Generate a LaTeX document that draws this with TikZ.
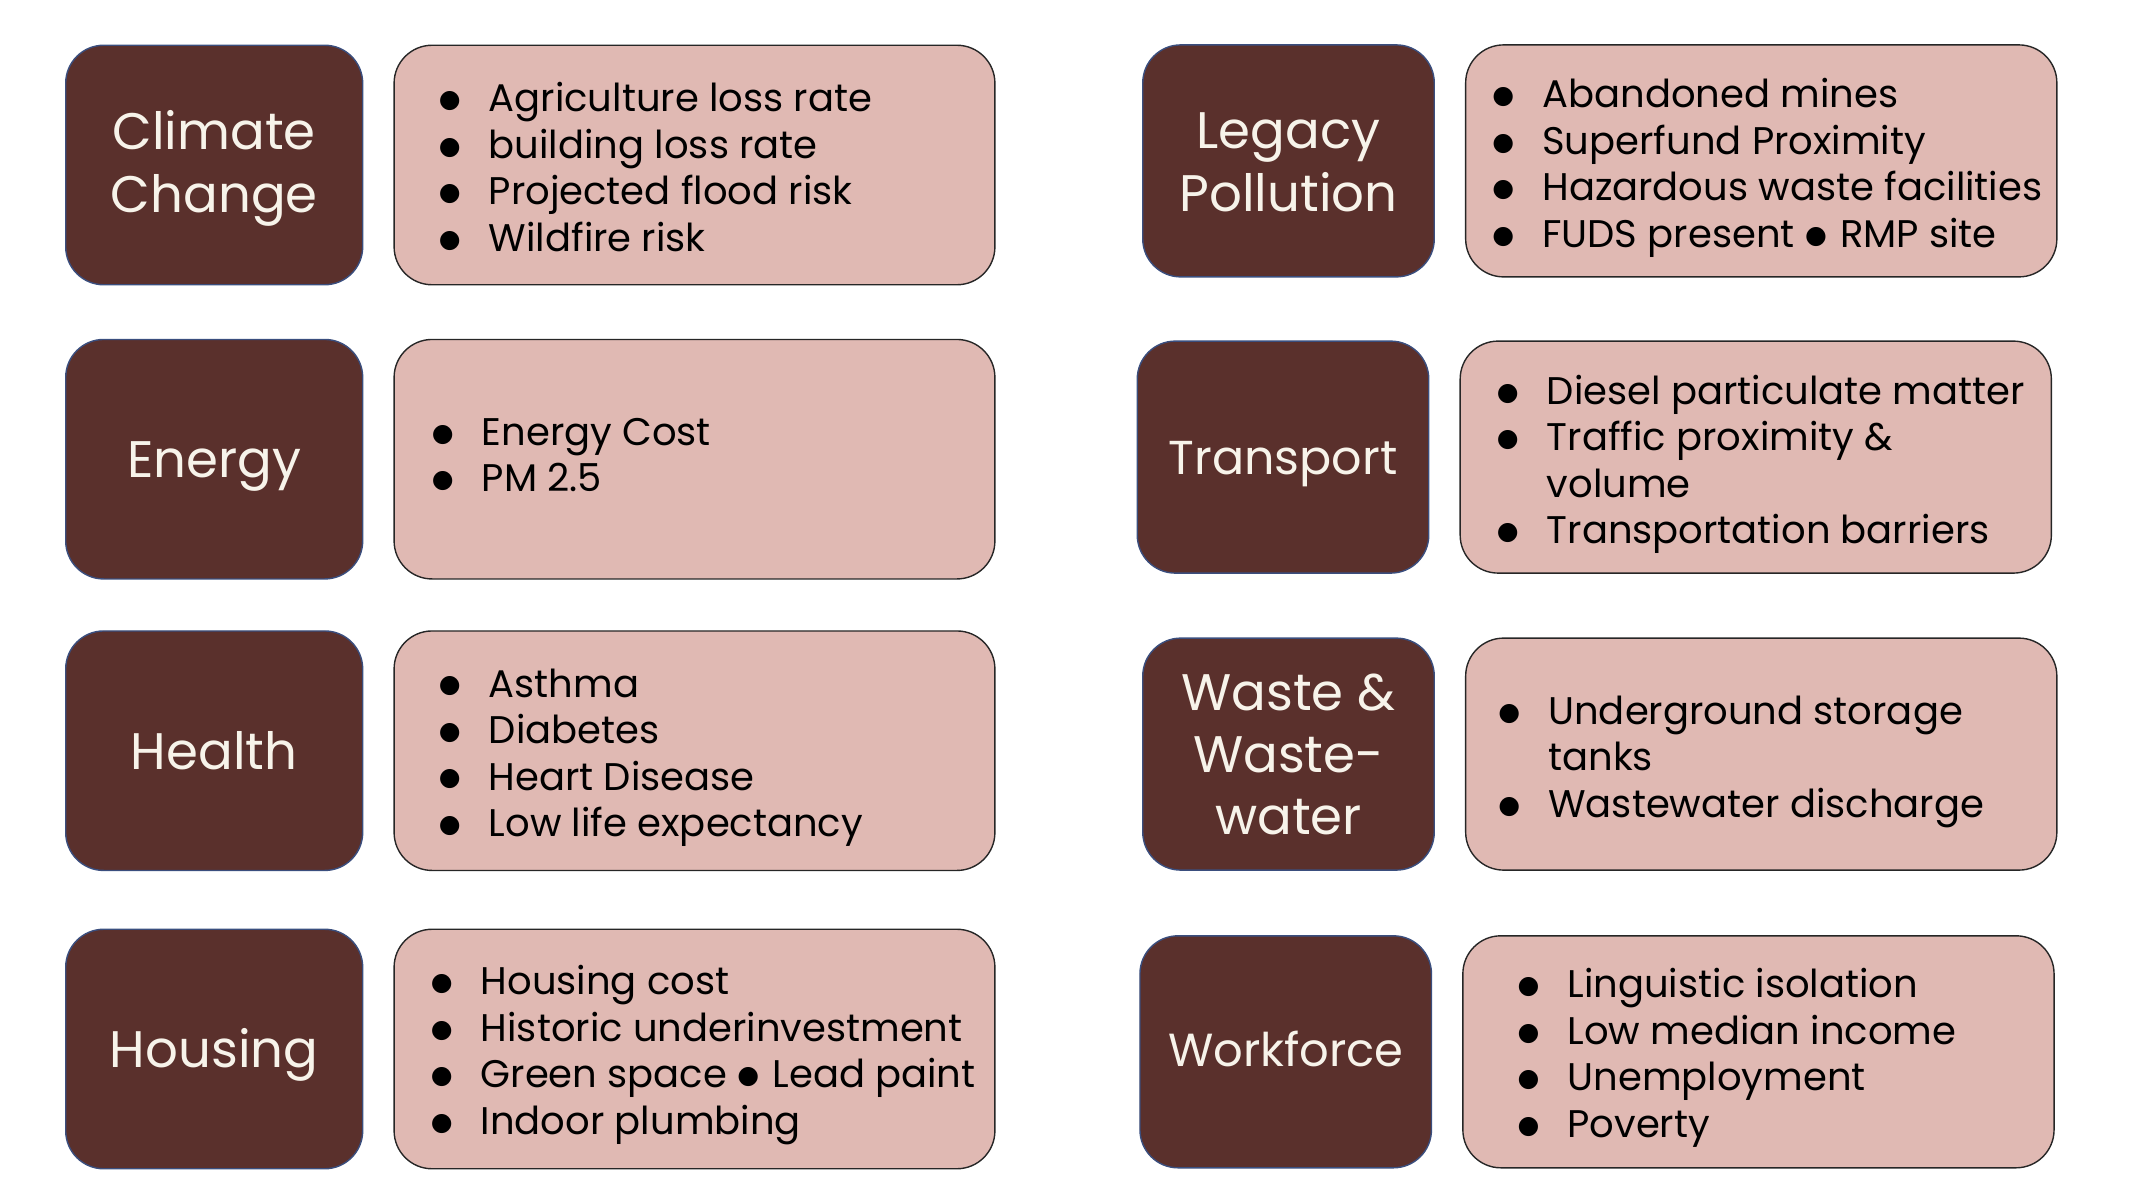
\documentclass[tikz,border=0pt]{standalone}
\usepackage{fontspec}
\setmainfont{Poppins}
\newfontfamily\symfont{DejaVu Sans}
\usepackage{tikz}
\usetikzlibrary{positioning}
\definecolor{boxdark}{HTML}{5A302C}
\definecolor{boxlight}{HTML}{E0B9B3}
\definecolor{edgeblue}{HTML}{3A4E7E}
\definecolor{headtext}{HTML}{F7F3EA}
\newcommand{\dotb}{{\symfont\fontsize{12.5pt}{12.5pt}\selectfont\raisebox{2pt}{●}}}
\newcommand{\itm}[1]{\makebox[0pt][c]{\dotb}\hspace{19.5pt}#1}
\newcommand{\cont}[1]{\hspace*{19.5pt}#1}

\begin{document}
\begin{tikzpicture}[x=0.5pt,y=-0.5pt,
  hdr/.style={draw=edgeblue,fill=boxdark,text=headtext,line width=0.7pt,rounded corners=19pt,
    align=center,inner sep=0pt,font=\fontsize{25.7pt}{31.5pt}\selectfont},
  lbox/.style={draw=black!85,fill=boxlight,line width=0.7pt,rounded corners=19pt,inner sep=0pt},
  items/.style={inner sep=0pt,align=left,text=black,font=\fontsize{19.25pt}{23.25pt}\selectfont},
  lcol/.style={minimum width=148.5pt,minimum height=119.75pt},
  rcol/.style={minimum width=145.75pt,minimum height=116pt}]
\useasboundingbox (0,0) rectangle (2146,1204);

% left column
\node[hdr,lcol] (cc) at (214.2,165) {};
\node[text=headtext,align=center,font=\fontsize{25.7pt}{31.5pt}\selectfont,yshift=-1.7pt] (ccHead) at (cc) {Climate\\Change};
\node[lbox,minimum width=300.4pt,minimum height=119.75pt,right=15pt of cc] (ccBox) {};
\node[items,right=28pt of ccBox.west,yshift=-1pt] (ccItems) {\itm{Agriculture loss rate}\\\itm{building loss rate}\\\itm{Projected flood risk}\\\itm{Wildfire risk}};

\node[hdr,lcol] (en) at (214.2,459.2) {};
\node[text=headtext,font=\fontsize{25.7pt}{31.5pt}\selectfont,yshift=-3.4pt] (enHead) at (en) {Energy};
\node[lbox,minimum width=300.4pt,minimum height=119.75pt,right=15pt of en] (enBox) {};
\node[items,right=24.5pt of enBox.west,yshift=2pt] (enItems) {\itm{Energy Cost}\\\itm{PM 2.5}};

\node[hdr,lcol] (he) at (214.2,750.7) {};
\node[text=headtext,font=\fontsize{25.7pt}{31.5pt}\selectfont] (heHead) at (he) {Health};
\node[lbox,minimum width=300.4pt,minimum height=119.75pt,right=15pt of he] (heBox) {};
\node[items,right=28pt of heBox.west,yshift=-3.4pt] (heItems) {\itm{Asthma}\\\itm{Diabetes}\\\itm{Heart Disease}\\\itm{Low life expectancy}};

\node[hdr,lcol] (ho) at (214.2,1049) {};
\node[text=headtext,font=\fontsize{25.7pt}{31.5pt}\selectfont,yshift=-2.7pt] (hoHead) at (ho) {Housing};
\node[lbox,minimum width=300.4pt,minimum height=119.75pt,right=15pt of ho] (hoBox) {};
\node[items,right=24pt of hoBox.west,yshift=-3pt] (hoItems) {\itm{Housing cost}\\\itm{Historic underinvestment}\\\itm{Green space \dotb\hspace{1.5pt} Lead paint}\\\itm{Indoor plumbing}};

% right column
\node[hdr,rcol] (lp) at (1288.5,160.9) {};
\node[text=headtext,align=center,font=\fontsize{25.7pt}{31.5pt}\selectfont,yshift=-0.7pt] (lpHead) at (lp) {Legacy\\Pollution};
\node[lbox,minimum width=295.6pt,minimum height=116pt,right=15pt of lp] (lpBox) {};
\node[items,right=19pt of lpBox.west,yshift=-3.4pt] (lpItems) {\itm{Abandoned mines}\\\itm{Superfund Proximity}\\\itm{Hazardous waste facilities}\\\itm{FUDS present \dotb\hspace{1.5pt} RMP site}};

\node[hdr,rcol] (tr) at (1283,457.1) {};
\node[text=headtext,font=\fontsize{23.8pt}{29pt}\selectfont,yshift=-3.4pt] (trHead) at (tr) {Transport};
\node[lbox,minimum width=295.6pt,minimum height=116pt,right=15pt of tr] (trBox) {};
\node[items,right=24pt of trBox.west,yshift=-3.7pt] (trItems) {\itm{Diesel particulate matter}\\\itm{Traffic proximity \&}\\\cont{volume}\\\itm{Transportation barriers}};

\node[hdr,rcol] (ww) at (1288.5,754.1) {};
\node[text=headtext,align=center,font=\fontsize{25.7pt}{31pt}\selectfont] (wwHead) at (ww) {Waste \&\\Waste-\\water};
\node[lbox,minimum width=295.6pt,minimum height=116pt,right=15pt of ww] (wwBox) {};
\node[items,right=22pt of wwBox.west,yshift=-3.7pt] (wwItems) {\itm{Underground storage}\\\cont{tanks}\\\itm{Wastewater discharge}};

\node[hdr,rcol] (wf) at (1285.7,1051.8) {};
\node[text=headtext,font=\fontsize{23.2pt}{28pt}\selectfont,yshift=1.2pt] (wfHead) at (wf) {Workforce};
\node[lbox,minimum width=295.6pt,minimum height=116pt,right=15pt of wf] (wfBox) {};
\node[items,right=33pt of wfBox.west,yshift=-3pt] (wfItems) {\itm{Linguistic isolation}\\\itm{Low median income}\\\itm{Unemployment}\\\itm{Poverty}};
\end{tikzpicture}
\end{document}
